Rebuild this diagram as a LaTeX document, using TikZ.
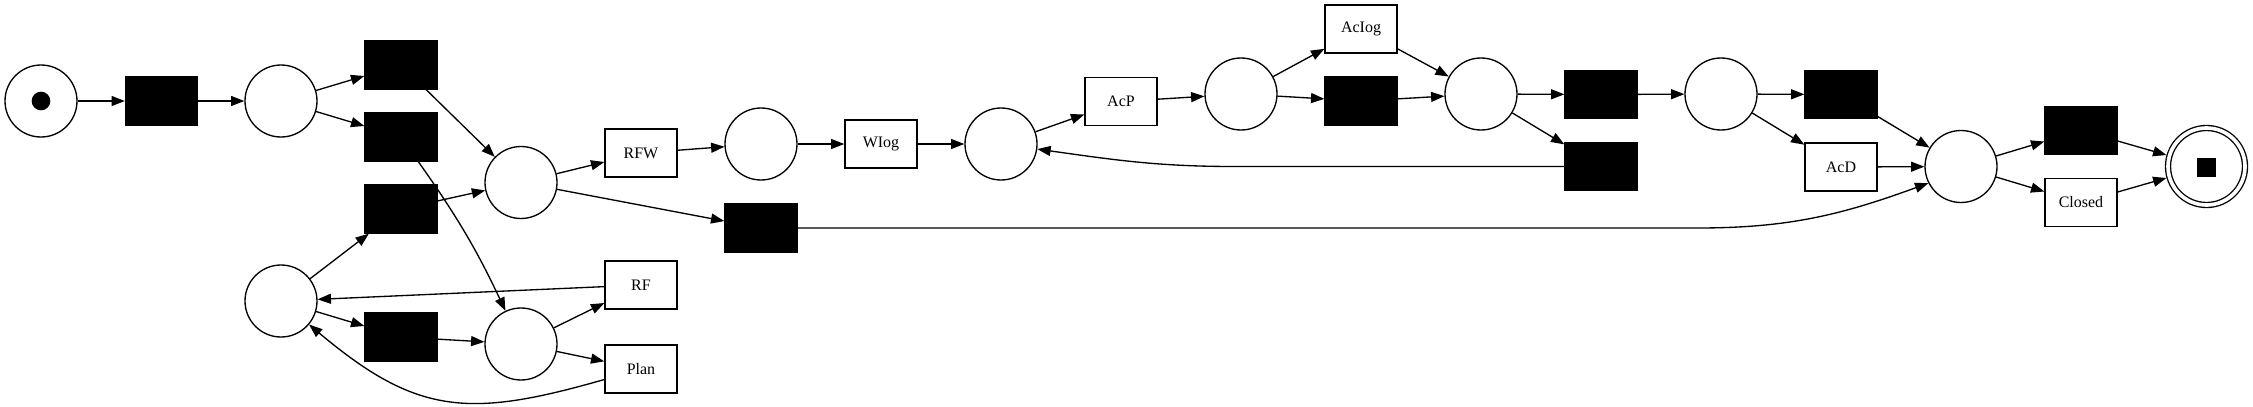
\documentclass[tikz,border=0pt]{standalone}
\usepackage{fontspec}
\setmainfont{Liberation Serif}
\usetikzlibrary{arrows.meta}
\tikzset{
  place/.style={circle, draw, line width=1pt, minimum size=54pt, inner sep=0pt},
  trans/.style={rectangle, draw, fill=black, line width=1pt, minimum width=54pt, minimum height=36pt, inner sep=0pt},
  act/.style={rectangle, draw, fill=white, line width=1pt, minimum width=54pt, minimum height=36pt, inner sep=0pt, font=\fontsize{12}{14}\selectfont},
  sink/.style={circle, draw, double, line width=1pt, double distance=2.75pt, minimum size=57.75pt, inner sep=0pt, outer sep=2.4pt},
  token/.style={circle, fill=black, minimum size=14pt, inner sep=0pt},
  endtoken/.style={rectangle, fill=black, minimum size=14pt, inner sep=0pt},
  arc/.style={-{Triangle[length=10pt,width=7.5pt]}, line width=1pt},
}
\begin{document}
\begin{tikzpicture}[x=0.75pt, y=-0.75pt]
      \useasboundingbox (0,0) rectangle (2253,407);
      \path
        (41,101) node[place] (p0){}
        (41,101) node[token] (tok0){}
        (161.5,101) node[trans] (t1){}
        (281,101) node[place] (p1){}
        (401,65) node[trans] (t2){}
        (401,137) node[trans] (t3){}
        (401,209) node[trans] (t4){}
        (281,301) node[place] (p4){}
        (401,337) node[trans] (t6){}
        (521,182.5) node[place] (p2){}
        (521,344) node[place] (p5){}
        (641,153) node[act] (rfw){RFW}
        (641,285) node[act] (rf){RF}
        (641,369) node[act] (plan){Plan}
        (761,144) node[place] (p3){}
        (761,228) node[trans] (t5){}
        (881,144) node[act] (wiog){WIog}
        (1001,144) node[place] (p6){}
        (1121,101.5) node[act] (acp){AcP}
        (1241,94) node[place] (p7){}
        (1361,29) node[act] (aciog){AcIog}
        (1361,101) node[trans] (t7){}
        (1481,94) node[place] (p8){}
        (1601,94.5) node[trans] (t8){}
        (1601,166.5) node[trans] (t9){}
        (1721,94) node[place] (p9){}
        (1841,94.5) node[trans] (t10){}
        (1841,167) node[act] (acd){AcD}
        (1961,166.5) node[place] (p10){}
        (2081,130.5) node[trans] (t11){}
        (2081,202.5) node[act] (closed){Closed}
        (2206.5,166.5) node[sink] (pend){}
        (2206.5,167.5) node[endtoken] (tokend){};
      \begin{scope}[arc]
        \draw (p0) to (t1);
        \draw (t1) to (p1);
        \draw (p1) to (t2);
        \draw (p1) to (t3);
        \draw (t2) to (p2);
        \draw (t3) to[bend left=5] (p5);
        \draw (t4) to (p2);
        \draw (p4) to (t4);
        \draw (p4) to (t6);
        \draw (t6) to (p5);
        \draw (rf) to (p4);
        \draw (plan) to[out=196, in=-40, looseness=1.2] (p4);
        \draw (p5) to (rf);
        \draw (p5) to (plan);
        \draw (p2) to (rfw);
        \draw (p2) to (t5);
        \draw (rfw) to (p3);
        \draw (p3) to (wiog);
        \draw (wiog) to (p6);
        \draw (p6) to (acp);
        \draw (acp) to (p7);
        \draw (p7) to (aciog);
        \draw (p7) to (t7);
        \draw (aciog) to (p8);
        \draw (t7) to (p8);
        \draw (p8) to (t8);
        \draw (p8) to (t9);
        \draw (t8) to (p9);
        \draw (t9.west) -- ++(-330,0) to[out=180, in=-8] (p6);
        \draw (p9) to (t10);
        \draw (p9) to (acd);
        \draw (t10) to (p10);
        \draw (acd) to (p10);
        \draw (t5.east) -- ++(900,0) to[out=0, in=200] (p10.207);
        \draw (p10) to (t11);
        \draw (p10) to (closed);
        \draw (t11) to (pend);
        \draw (closed) to (pend);
      \end{scope}
    \end{tikzpicture}
\end{document}
